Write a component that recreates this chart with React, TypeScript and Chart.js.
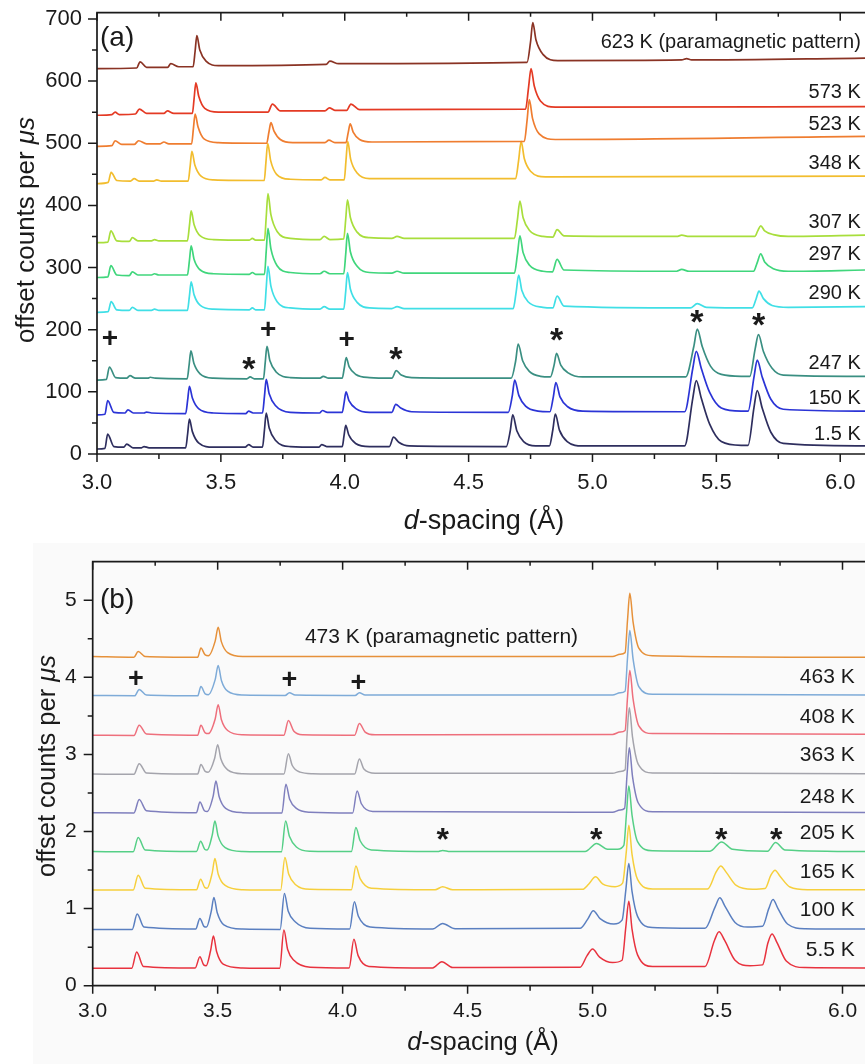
import React, { useEffect, useRef } from "react";
import { Chart, registerables } from "chart.js";

Chart.register(...registerables);

const FONT = '"Liberation Sans", Arial, Helvetica, sans-serif';
const INK = "#1a1a1a";

// ======================= Panel (a) =======================
const A_X_TICKS = [3.0, 3.25, 3.5, 3.75, 4.0, 4.25, 4.5, 4.75, 5.0, 5.25, 5.5, 5.75, 6.0];
const A_Y_TICKS = [0, 50, 100, 150, 200, 250, 300, 350, 400, 450, 500, 550, 600, 650, 700];
const A_NAMES = ["623 K (paramagnetic pattern)", "573 K", "523 K", "348 K", "307 K", "297 K", "290 K", "247 K", "150 K", "1.5 K"];
const A_COLORS = ["#8a3324", "#e43a24", "#ef7d30", "#f2bd2e", "#a8de3c", "#40d67c", "#40dfe6", "#3a8f82", "#2b34d6", "#2e2e5e"];
const A_NAME_POS = [[6.083, 662], [6.083, 581], [6.083, 530], [6.083, 468], [6.083, 372.5], [6.083, 320.5], [6.083, 259], [6.083, 146], [6.083, 88.6], [6.083, 32.2]];
const A_PLUS = [[3.053, 187], [3.692, 202], [4.009, 186]];
const A_STAR = [[3.615, 146], [4.208, 162], [4.857, 192], [5.423, 221], [5.672, 217]];

const A_623 = [[3.0,620],[3.16,621],[3.174,631],[3.2,622],[3.285,622],[3.298,628],[3.33,623],[3.388,623],[3.396,648],[3.403,673],[3.415,650],[3.44,632],[3.49,625],[3.925,627],[3.94,632],[3.975,628],[4.736,630],[4.75,663],[4.759,694],[4.772,666],[4.8,643],[4.86,633],[5.36,634],[5.38,636],[5.4,634],[6.1,637]];
const A_573 = [[3.0,545],[3.06,546],[3.073,550],[3.09,546],[3.155,547],[3.171,555],[3.2,548],[3.27,548],[3.284,552],[3.31,548],[3.385,548],[3.392,572],[3.399,597],[3.411,575],[3.435,556],[3.49,550],[3.69,550],[3.708,563],[3.74,552],[3.92,552],[3.938,557],[3.96,553],[4.008,553],[4.025,563],[4.06,554],[4.73,555],[4.742,590],[4.752,620],[4.765,592],[4.79,568],[4.85,558],[6.1,559]];
const A_523 = [[3.0,495],[3.06,496],[3.073,504],[3.1,498],[3.15,498],[3.168,504],[3.2,499],[3.255,499],[3.27,502],[3.29,499],[3.382,499],[3.389,523],[3.396,547],[3.408,526],[3.432,507],[3.49,501],[3.685,500],[3.694,518],[3.702,533],[3.714,520],[3.74,506],[3.79,501],[3.92,501],[3.936,505],[3.96,501],[4.005,501],[4.014,517],[4.022,531],[4.034,518],[4.06,506],[4.11,502],[4.725,503],[4.736,537],[4.745,570],[4.758,540],[4.785,515],[4.85,506],[6.1,511]];
const A_348 = [[3.0,435],[3.045,437],[3.057,453],[3.08,440],[3.135,439],[3.15,443],[3.17,439],[3.228,439],[3.241,441],[3.26,439],[3.368,439],[3.376,463],[3.383,487],[3.395,465],[3.42,447],[3.47,441],[3.675,440],[3.682,470],[3.689,500],[3.701,472],[3.725,450],[3.78,442],[3.905,441],[3.92,445],[3.94,441],[3.998,441],[4.005,472],[4.012,503],[4.024,474],[4.05,452],[4.1,443],[4.69,443],[4.702,473],[4.712,503],[4.725,475],[4.75,455],[4.81,446],[6.1,447]];
const A_307 = [[3.0,340],[3.044,341],[3.056,359],[3.08,343],[3.13,342],[3.143,348],[3.165,343],[3.22,343],[3.232,345],[3.25,343],[3.365,343],[3.373,367],[3.38,391],[3.392,369],[3.417,351],[3.47,345],[3.615,344],[3.627,347],[3.64,344],[3.676,344],[3.683,381],[3.69,419],[3.702,385],[3.727,358],[3.78,347],[3.9,345],[3.917,350],[3.94,345],[3.996,346],[4.004,378],[4.011,409],[4.023,380],[4.05,357],[4.1,348],[4.19,347],[4.211,350],[4.24,347],[4.685,347],[4.697,377],[4.707,407],[4.72,380],[4.745,360],[4.8,350],[4.84,349],[4.857,361],[4.885,351],[5.34,350],[5.36,352],[5.39,350],[5.655,350],[5.667,359],[5.679,367],[5.695,359],[5.73,353],[5.79,350],[6.1,352]];
const A_297 = [[3.0,284],[3.044,285],[3.056,303],[3.08,288],[3.13,287],[3.143,293],[3.165,288],[3.22,288],[3.232,290],[3.25,288],[3.365,288],[3.373,311],[3.38,335],[3.392,313],[3.417,296],[3.47,290],[3.615,289],[3.627,292],[3.64,289],[3.676,289],[3.683,326],[3.69,363],[3.702,330],[3.727,303],[3.78,292],[3.9,290],[3.917,294],[3.94,290],[3.996,290],[4.004,322],[4.011,355],[4.023,325],[4.05,302],[4.1,292],[4.19,291],[4.211,294],[4.24,291],[4.685,291],[4.697,321],[4.707,351],[4.72,324],[4.745,304],[4.8,294],[4.838,293],[4.857,313],[4.885,296],[5.34,294],[5.36,297],[5.39,294],[5.65,294],[5.665,308],[5.679,322],[5.695,309],[5.73,298],[5.79,294],[6.1,296]];
const A_290 = [[3.0,228],[3.045,229],[3.057,245],[3.08,232],[3.13,231],[3.143,236],[3.165,231],[3.22,231],[3.232,233],[3.25,231],[3.365,231],[3.373,254],[3.38,277],[3.392,256],[3.417,239],[3.47,233],[3.615,232],[3.627,235],[3.64,232],[3.676,232],[3.683,267],[3.69,302],[3.702,270],[3.727,245],[3.78,235],[3.9,233],[3.917,237],[3.94,233],[3.996,233],[4.004,262],[4.011,292],[4.023,265],[4.05,244],[4.1,235],[4.19,234],[4.211,237],[4.24,234],[4.68,234],[4.692,261],[4.702,288],[4.715,263],[4.74,245],[4.8,236],[4.84,235],[4.857,254],[4.885,238],[5.395,235],[5.423,242],[5.46,236],[5.645,235],[5.66,249],[5.672,262],[5.69,250],[5.725,239],[5.79,236],[6.1,237]];
const A_247 = [[3.0,119],[3.038,120],[3.05,140],[3.075,123],[3.12,122],[3.133,126],[3.155,122],[3.205,122],[3.215,123.5],[3.235,122],[3.364,121],[3.372,144],[3.379,166],[3.391,146],[3.416,129],[3.47,122],[3.605,121],[3.618,124],[3.635,121],[3.672,121],[3.679,147],[3.686,173],[3.698,150],[3.723,132],[3.78,123],[3.9,122],[3.913,125],[3.935,122],[3.99,122],[3.998,138],[4.006,155],[4.018,140],[4.045,128],[4.1,123],[4.19,122],[4.208,134],[4.228,127],[4.27,123],[4.672,122],[4.69,150],[4.7,177],[4.718,150],[4.745,133],[4.79,125],[4.83,124],[4.845,143],[4.855,162],[4.872,143],[4.9,131],[4.96,124],[5.376,124],[5.409,173],[5.423,201],[5.443,173],[5.477,141],[5.52,128],[5.6,125],[5.635,125],[5.657,170],[5.67,192],[5.69,165],[5.725,138],[5.77,127],[6.1,125]];
const A_150 = [[3.0,63],[3.032,64],[3.043,86],[3.068,67],[3.112,66],[3.125,71],[3.147,66],[3.19,66],[3.2,67.5],[3.22,66],[3.358,65],[3.366,87],[3.373,109],[3.385,90],[3.41,73],[3.47,66],[3.6,65],[3.612,69],[3.63,66],[3.668,66],[3.676,93],[3.683,120],[3.695,97],[3.72,78],[3.78,67],[3.898,66],[3.91,70],[3.93,67],[3.99,67],[3.998,84],[4.005,100],[4.017,86],[4.045,73],[4.1,67],[4.19,67],[4.206,80],[4.226,74],[4.27,68],[4.66,67],[4.676,93],[4.686,119],[4.703,94],[4.73,77],[4.78,69],[4.828,68],[4.842,92],[4.852,115],[4.869,92],[4.9,76],[4.96,69],[5.372,68],[5.405,138],[5.419,165],[5.439,138],[5.473,99],[5.52,74],[5.6,69],[5.628,69],[5.652,124],[5.665,151],[5.685,124],[5.72,88],[5.77,72],[6.1,69]];
const A_1_5 = [[3.0,8],[3.032,9],[3.043,32],[3.068,12],[3.108,11],[3.12,16],[3.145,10],[3.18,10],[3.19,12],[3.21,10],[3.358,10],[3.366,33],[3.373,56],[3.385,36],[3.41,18],[3.47,11],[3.598,11],[3.612,15],[3.63,11],[3.668,11],[3.676,39],[3.683,66],[3.695,42],[3.72,22],[3.78,12],[3.895,11],[3.907,15],[3.927,12],[3.99,12],[3.997,29],[4.004,46],[4.016,31],[4.044,17],[4.1,12],[4.18,12],[4.197,27],[4.218,19],[4.26,13],[4.652,12],[4.668,37],[4.678,63],[4.695,37],[4.722,20],[4.77,13],[4.826,13],[4.84,39],[4.85,64],[4.867,38],[4.898,20],[4.96,13],[5.372,13],[5.405,90],[5.419,118],[5.439,90],[5.473,48],[5.52,20],[5.6,14],[5.628,14],[5.652,75],[5.665,102],[5.685,74],[5.72,35],[5.77,17],[6.1,13]];
const A_SERIES = [A_623, A_573, A_523, A_348, A_307, A_297, A_290, A_247, A_150, A_1_5];

// ======================= Panel (b) =======================
const B_X_TICKS = [3.0, 3.25, 3.5, 3.75, 4.0, 4.25, 4.5, 4.75, 5.0, 5.25, 5.5, 5.75, 6.0];
const B_Y_TICKS = [0, 0.5, 1, 1.5, 2, 2.5, 3, 3.5, 4, 4.5, 5];
const B_NAMES = ["473 K (paramagnetic pattern)", "463 K", "408 K", "363 K", "248 K", "205 K", "165 K", "100 K", "5.5 K"];
const B_COLORS = ["#e6913a", "#7eabd8", "#ee6f7c", "#a4a4ac", "#7f7fbd", "#55cf86", "#f6cf3c", "#5a7fc0", "#e8323e"];
const B_NAME_POS = [[3.849, 4.52], [6.049, 4.003], [6.049, 3.485], [6.049, 2.988], [6.049, 2.448], [6.049, 1.974], [6.049, 1.477], [6.049, 0.981], [6.049, 0.462]];
const B_PLUS = [[3.173, 4.0], [3.787, 3.99], [4.063, 3.95]];
const B_STAR = [[4.402, 1.974], [5.016, 1.974], [5.516, 1.974], [5.736, 1.974]];

const B_473 = [[3.0,4.27],[3.165,4.26],[3.182,4.335],[3.21,4.27],[3.42,4.26],[3.433,4.38],[3.45,4.29],[3.463,4.28],[3.49,4.47],[3.502,4.65],[3.515,4.46],[3.54,4.32],[3.6,4.27],[5.08,4.27],[5.11,4.3],[5.13,4.32],[5.14,4.75],[5.149,5.09],[5.162,4.72],[5.185,4.38],[5.24,4.28],[6.1,4.26]];
const B_463 = [[3.0,3.765],[3.168,3.76],[3.186,3.843],[3.215,3.77],[3.42,3.76],[3.433,3.88],[3.45,3.785],[3.463,3.775],[3.49,3.97],[3.502,4.154],[3.515,3.96],[3.54,3.82],[3.6,3.77],[3.77,3.765],[3.787,3.8],[3.81,3.77],[4.05,3.765],[4.067,3.8],[4.09,3.77],[5.08,3.77],[5.11,3.8],[5.13,3.82],[5.14,4.26],[5.149,4.607],[5.162,4.24],[5.185,3.88],[5.24,3.78],[6.1,3.77]];
const B_408 = [[3.0,3.25],[3.165,3.245],[3.186,3.377],[3.215,3.265],[3.42,3.25],[3.433,3.377],[3.45,3.28],[3.463,3.27],[3.49,3.46],[3.502,3.645],[3.515,3.45],[3.54,3.31],[3.6,3.255],[3.765,3.25],[3.783,3.44],[3.805,3.3],[3.84,3.255],[4.048,3.25],[4.067,3.4],[4.09,3.29],[4.13,3.255],[5.08,3.26],[5.11,3.29],[5.13,3.31],[5.14,3.75],[5.149,4.09],[5.162,3.72],[5.185,3.37],[5.24,3.27],[6.1,3.26]];
const B_363 = [[3.0,2.745],[3.165,2.742],[3.186,2.88],[3.215,2.76],[3.42,2.745],[3.433,2.87],[3.45,2.78],[3.462,2.77],[3.488,2.95],[3.5,3.127],[3.513,2.94],[3.54,2.8],[3.6,2.75],[3.765,2.745],[3.783,3.01],[3.798,2.86],[3.83,2.77],[3.88,2.75],[4.048,2.745],[4.067,2.94],[4.085,2.81],[4.13,2.755],[5.08,2.755],[5.11,2.78],[5.13,2.8],[5.138,3.25],[5.147,3.606],[5.16,3.22],[5.183,2.87],[5.24,2.76],[6.1,2.75]];
const B_248 = [[3.0,2.245],[3.165,2.24],[3.186,2.414],[3.215,2.27],[3.415,2.245],[3.429,2.383],[3.447,2.27],[3.458,2.26],[3.482,2.46],[3.493,2.655],[3.506,2.45],[3.532,2.3],[3.6,2.245],[3.757,2.24],[3.773,2.613],[3.788,2.42],[3.815,2.3],[3.87,2.25],[4.04,2.24],[4.058,2.526],[4.075,2.36],[4.12,2.26],[5.08,2.25],[5.11,2.28],[5.128,2.3],[5.138,2.74],[5.147,3.088],[5.16,2.71],[5.183,2.37],[5.24,2.255],[6.1,2.245]];
const B_205 = [[3.0,1.74],[3.162,1.736],[3.182,1.922],[3.21,1.76],[3.415,1.74],[3.432,1.874],[3.448,1.77],[3.458,1.76],[3.478,1.95],[3.489,2.137],[3.502,1.94],[3.53,1.79],[3.6,1.74],[3.755,1.736],[3.772,2.137],[3.787,1.94],[3.815,1.8],[3.87,1.745],[4.035,1.74],[4.053,2.052],[4.07,1.88],[4.115,1.76],[4.38,1.74],[4.4,1.755],[4.43,1.74],[4.97,1.74],[5.016,1.845],[5.06,1.77],[5.1,1.77],[5.125,1.82],[5.136,2.25],[5.145,2.59],[5.158,2.21],[5.18,1.87],[5.24,1.75],[5.47,1.745],[5.516,1.865],[5.56,1.77],[5.7,1.745],[5.732,1.857],[5.77,1.76],[6.1,1.74]];
const B_165 = [[3.0,1.24],[3.162,1.24],[3.182,1.434],[3.21,1.265],[3.415,1.245],[3.432,1.382],[3.448,1.275],[3.458,1.265],[3.478,1.46],[3.489,1.65],[3.502,1.45],[3.53,1.3],[3.6,1.245],[3.752,1.24],[3.769,1.663],[3.784,1.45],[3.812,1.31],[3.87,1.25],[4.035,1.245],[4.053,1.554],[4.07,1.39],[4.115,1.265],[4.37,1.245],[4.4,1.283],[4.44,1.245],[4.96,1.25],[4.985,1.32],[5.012,1.412],[5.04,1.32],[5.09,1.285],[5.12,1.33],[5.135,1.74],[5.145,2.08],[5.158,1.7],[5.18,1.38],[5.24,1.255],[5.46,1.255],[5.495,1.48],[5.513,1.554],[5.535,1.47],[5.575,1.3],[5.64,1.25],[5.69,1.26],[5.713,1.43],[5.73,1.499],[5.75,1.42],[5.79,1.28],[5.86,1.245],[6.1,1.245]];
const B_100 = [[3.0,0.73],[3.158,0.73],[3.178,0.929],[3.205,0.76],[3.412,0.735],[3.429,0.873],[3.445,0.77],[3.455,0.76],[3.474,0.96],[3.485,1.145],[3.498,0.95],[3.525,0.79],[3.6,0.735],[3.75,0.73],[3.767,1.197],[3.782,0.97],[3.81,0.83],[3.87,0.745],[4.028,0.735],[4.047,1.088],[4.063,0.9],[4.11,0.76],[4.36,0.735],[4.4,0.808],[4.45,0.74],[4.95,0.745],[4.98,0.86],[5.003,0.972],[5.03,0.87],[5.085,0.8],[5.118,0.85],[5.133,1.24],[5.145,1.585],[5.158,1.22],[5.18,0.9],[5.24,0.755],[5.45,0.745],[5.49,1.02],[5.509,1.14],[5.53,1.03],[5.57,0.82],[5.62,0.76],[5.68,0.77],[5.705,1.0],[5.722,1.119],[5.742,1.0],[5.78,0.8],[5.85,0.74],[6.1,0.735]];
const B_5_5 = [[3.0,0.225],[3.156,0.225],[3.176,0.437],[3.203,0.25],[3.41,0.23],[3.429,0.376],[3.444,0.27],[3.454,0.26],[3.472,0.46],[3.483,0.644],[3.496,0.44],[3.522,0.28],[3.6,0.23],[3.748,0.225],[3.765,0.722],[3.78,0.47],[3.805,0.33],[3.87,0.24],[4.026,0.23],[4.045,0.601],[4.062,0.39],[4.105,0.25],[4.36,0.23],[4.397,0.311],[4.44,0.235],[4.95,0.24],[4.978,0.39],[5.0,0.475],[5.028,0.37],[5.08,0.3],[5.118,0.33],[5.133,0.76],[5.145,1.097],[5.158,0.73],[5.18,0.4],[5.24,0.25],[5.45,0.25],[5.488,0.59],[5.506,0.7],[5.528,0.59],[5.57,0.33],[5.63,0.26],[5.68,0.27],[5.702,0.56],[5.718,0.67],[5.738,0.56],[5.775,0.32],[5.85,0.235],[6.1,0.23]];
const B_SERIES = [B_473, B_463, B_408, B_363, B_248, B_205, B_165, B_100, B_5_5];

// ======================= Panel settings (layout/style) =======================
const PANEL_A = {
  top: 0, h: 535, padTop: 12.7, xAxisH: 81, yAxisW: 97,
  xMin: 3, xMax: 6.1, yMin: 0, yMax: 710,
  xTicks: A_X_TICKS, yTicks: A_Y_TICKS, xMajor: 0.5, yMajor: 100,
  series: A_SERIES, colors: A_COLORS, names: A_NAMES, namePos: A_NAME_POS, nameAlign: ["right"],
  plus: A_PLUS, star: A_STAR,
  tickSize: 22, xTickPad: 16, yTickPad: 15, lw: 1.7, axisLw: 1.7,
  nameSize: 20, plusSize: 28, starSize: 34,
  tag: "(a)", tagX: 100, tagY: 38, tagSize: 28,
  xTitle: { x: 484, y: 521.7, size: 27 }, yTitle: { x: 27, y: 230, size: 26 },
  bg: null as null | { x: number; y: number; color: string },
};
const PANEL_B = {
  top: 535, h: 529, padTop: 26.7, xAxisH: 78.3, yAxisW: 92.7,
  xMin: 3, xMax: 6.09, yMin: 0, yMax: 5.5,
  xTicks: B_X_TICKS, yTicks: B_Y_TICKS, xMajor: 0.5, yMajor: 1,
  series: B_SERIES, colors: B_COLORS, names: B_NAMES, namePos: B_NAME_POS, nameAlign: ["left"],
  plus: B_PLUS, star: B_STAR,
  tickSize: 21, xTickPad: 13.4, yTickPad: 16, lw: 1.5, axisLw: 1.7,
  nameSize: 21, plusSize: 27, starSize: 32,
  tag: "(b)", tagX: 100, tagY: 65, tagSize: 28,
  xTitle: { x: 483, y: 508, size: 25.5 }, yTitle: { x: 48, y: 231, size: 25.5 },
  bg: { x: 33, y: 8, color: "#fafafa" },
};

function isMajor(v: number, step: number) {
  const r = v / step;
  return Math.abs(r - Math.round(r)) < 1e-6;
}

function font(size: number, italic = false, bold = false) {
  return `${italic ? "italic " : ""}${bold ? "bold " : ""}${size}px ${FONT}`;
}

function drawInkCentered(ctx: CanvasRenderingContext2D, text: string, x: number, y: number) {
  ctx.textAlign = "left";
  ctx.textBaseline = "alphabetic";
  const m = ctx.measureText(text);
  const l = m.actualBoundingBoxLeft, r = m.actualBoundingBoxRight;
  const a = m.actualBoundingBoxAscent, d = m.actualBoundingBoxDescent;
  ctx.fillText(text, x - (r - l) / 2, y + (a - d) / 2);
}

function drawRich(ctx: CanvasRenderingContext2D, parts: { t: string; i: boolean }[], size: number) {
  ctx.textBaseline = "middle";
  ctx.textAlign = "left";
  let total = 0;
  const widths = parts.map((p) => {
    ctx.font = font(size, p.i);
    const w = ctx.measureText(p.t).width;
    total += w;
    return w;
  });
  let x = -total / 2;
  parts.forEach((p, k) => {
    ctx.font = font(size, p.i);
    ctx.fillText(p.t, x, 0);
    x += widths[k];
  });
}

function makeDecor(cfg: typeof PANEL_A) {
  return {
    id: "decor",
    beforeDraw(chart: any) {
      if (!cfg.bg) return;
      const ctx = chart.ctx;
      ctx.save();
      ctx.fillStyle = cfg.bg.color;
      ctx.fillRect(cfg.bg.x, cfg.bg.y, chart.width - cfg.bg.x, chart.height - cfg.bg.y);
      ctx.restore();
    },
    afterDraw(chart: any) {
      const ctx: CanvasRenderingContext2D = chart.ctx;
      const a = chart.chartArea;
      const xs = chart.scales.x;
      const ys = chart.scales.y;
      ctx.save();
      ctx.strokeStyle = INK;
      ctx.lineWidth = cfg.axisLw;
      ctx.beginPath();
      ctx.moveTo(chart.width, a.top);
      ctx.lineTo(a.left, a.top);
      ctx.lineTo(a.left, a.bottom);
      ctx.lineTo(chart.width, a.bottom);
      ctx.stroke();
      ctx.lineWidth = 1.5;
      ctx.beginPath();
      for (const v of cfg.xTicks) {
        const px = xs.getPixelForValue(v);
        const maj = isMajor(v, cfg.xMajor);
        ctx.moveTo(px, a.bottom);
        ctx.lineTo(px, a.bottom + (maj ? 8 : 5));
        ctx.moveTo(px, a.top);
        ctx.lineTo(px, a.top + (maj ? 8 : 4));
      }
      for (const v of cfg.yTicks) {
        const py = ys.getPixelForValue(v);
        const maj = isMajor(v, cfg.yMajor);
        ctx.moveTo(a.left, py);
        ctx.lineTo(a.left - (maj ? 9 : 5), py);
      }
      ctx.stroke();

      ctx.fillStyle = INK;
      ctx.font = font(cfg.nameSize);
      ctx.textBaseline = "middle";
      cfg.names.forEach((n, k) => {
        const p = cfg.namePos[k];
        const align = k === 0 ? cfg.nameAlign[0] : "right";
        ctx.textAlign = align as CanvasTextAlign;
        ctx.fillText(n, xs.getPixelForValue(p[0]), ys.getPixelForValue(p[1]));
      });
      ctx.font = font(cfg.plusSize, false, true);
      cfg.plus.forEach((p) => drawInkCentered(ctx, "+", xs.getPixelForValue(p[0]), ys.getPixelForValue(p[1])));
      ctx.font = font(cfg.starSize, false, true);
      cfg.star.forEach((p) => drawInkCentered(ctx, "*", xs.getPixelForValue(p[0]), ys.getPixelForValue(p[1])));
      ctx.font = font(cfg.tagSize);
      ctx.textAlign = "left";
      ctx.textBaseline = "middle";
      ctx.fillText(cfg.tag, cfg.tagX, cfg.tagY);
      ctx.save();
      ctx.translate(cfg.xTitle.x, cfg.xTitle.y);
      drawRich(ctx, [{ t: "d", i: true }, { t: "-spacing (Å)", i: false }], cfg.xTitle.size);
      ctx.restore();
      ctx.save();
      ctx.translate(cfg.yTitle.x, cfg.yTitle.y);
      ctx.rotate(-Math.PI / 2);
      drawRich(ctx, [{ t: "offset counts per ", i: false }, { t: "μs", i: true }], cfg.yTitle.size);
      ctx.restore();
      ctx.restore();
    },
  };
}

function Panel({ cfg }: { cfg: typeof PANEL_A }) {
  const ref = useRef<HTMLCanvasElement>(null);
  useEffect(() => {
    const canvas = ref.current;
    if (!canvas) return;
    const chart = new Chart(canvas, {
      type: "line",
      data: {
        datasets: cfg.series.map((s, k) => ({
          data: s.map((p) => ({ x: p[0], y: p[1] })),
          borderColor: cfg.colors[k],
          backgroundColor: cfg.colors[k],
          borderWidth: cfg.lw,
          pointRadius: 0,
          fill: false,
          cubicInterpolationMode: "monotone",
        })),
      },
      options: {
        responsive: false,
        animation: false,
        devicePixelRatio: 1,
        events: [],
        layout: { padding: { top: cfg.padTop, right: 0, bottom: 0, left: 0 } },
        plugins: { legend: { display: false }, tooltip: { enabled: false } },
        scales: {
          x: {
            type: "linear",
            min: cfg.xMin,
            max: cfg.xMax,
            grid: { display: false, drawTicks: false },
            border: { display: false },
            afterBuildTicks: (s: any) => {
              s.ticks = cfg.xTicks.map((v) => ({ value: v }));
            },
            afterFit: (s: any) => {
              s.height = cfg.xAxisH;
              s.paddingLeft = 0;
              s.paddingRight = 0;
            },
            ticks: {
              autoSkip: false,
              maxRotation: 0,
              minRotation: 0,
              padding: cfg.xTickPad,
              color: INK,
              font: { family: FONT, size: cfg.tickSize },
              callback: (v: any) => (isMajor(Number(v), cfg.xMajor) ? Number(v).toFixed(1) : ""),
            },
          },
          y: {
            type: "linear",
            min: cfg.yMin,
            max: cfg.yMax,
            grid: { display: false, drawTicks: false },
            border: { display: false },
            afterBuildTicks: (s: any) => {
              s.ticks = cfg.yTicks.map((v) => ({ value: v }));
            },
            afterFit: (s: any) => {
              s.width = cfg.yAxisW;
              s.paddingTop = 0;
              s.paddingBottom = 0;
            },
            ticks: {
              autoSkip: false,
              padding: cfg.yTickPad,
              color: INK,
              font: { family: FONT, size: cfg.tickSize },
              callback: (v: any) => (isMajor(Number(v), cfg.yMajor) ? String(v) : ""),
            },
          },
        },
      },
      plugins: [makeDecor(cfg)],
    } as any);
    return () => chart.destroy();
  }, [cfg]);
  return (
    <canvas
      ref={ref}
      width={865}
      height={cfg.h}
      style={{ position: "absolute", left: 0, top: cfg.top, width: 865, height: cfg.h, display: "block" }}
    />
  );
}

export default function App() {
  return (
    <div style={{ position: "absolute", left: 0, top: 0, width: 865, height: 1064, background: "#ffffff", overflow: "hidden" }}>
      <Panel cfg={PANEL_A} />
      <Panel cfg={PANEL_B as any} />
    </div>
  );
}
